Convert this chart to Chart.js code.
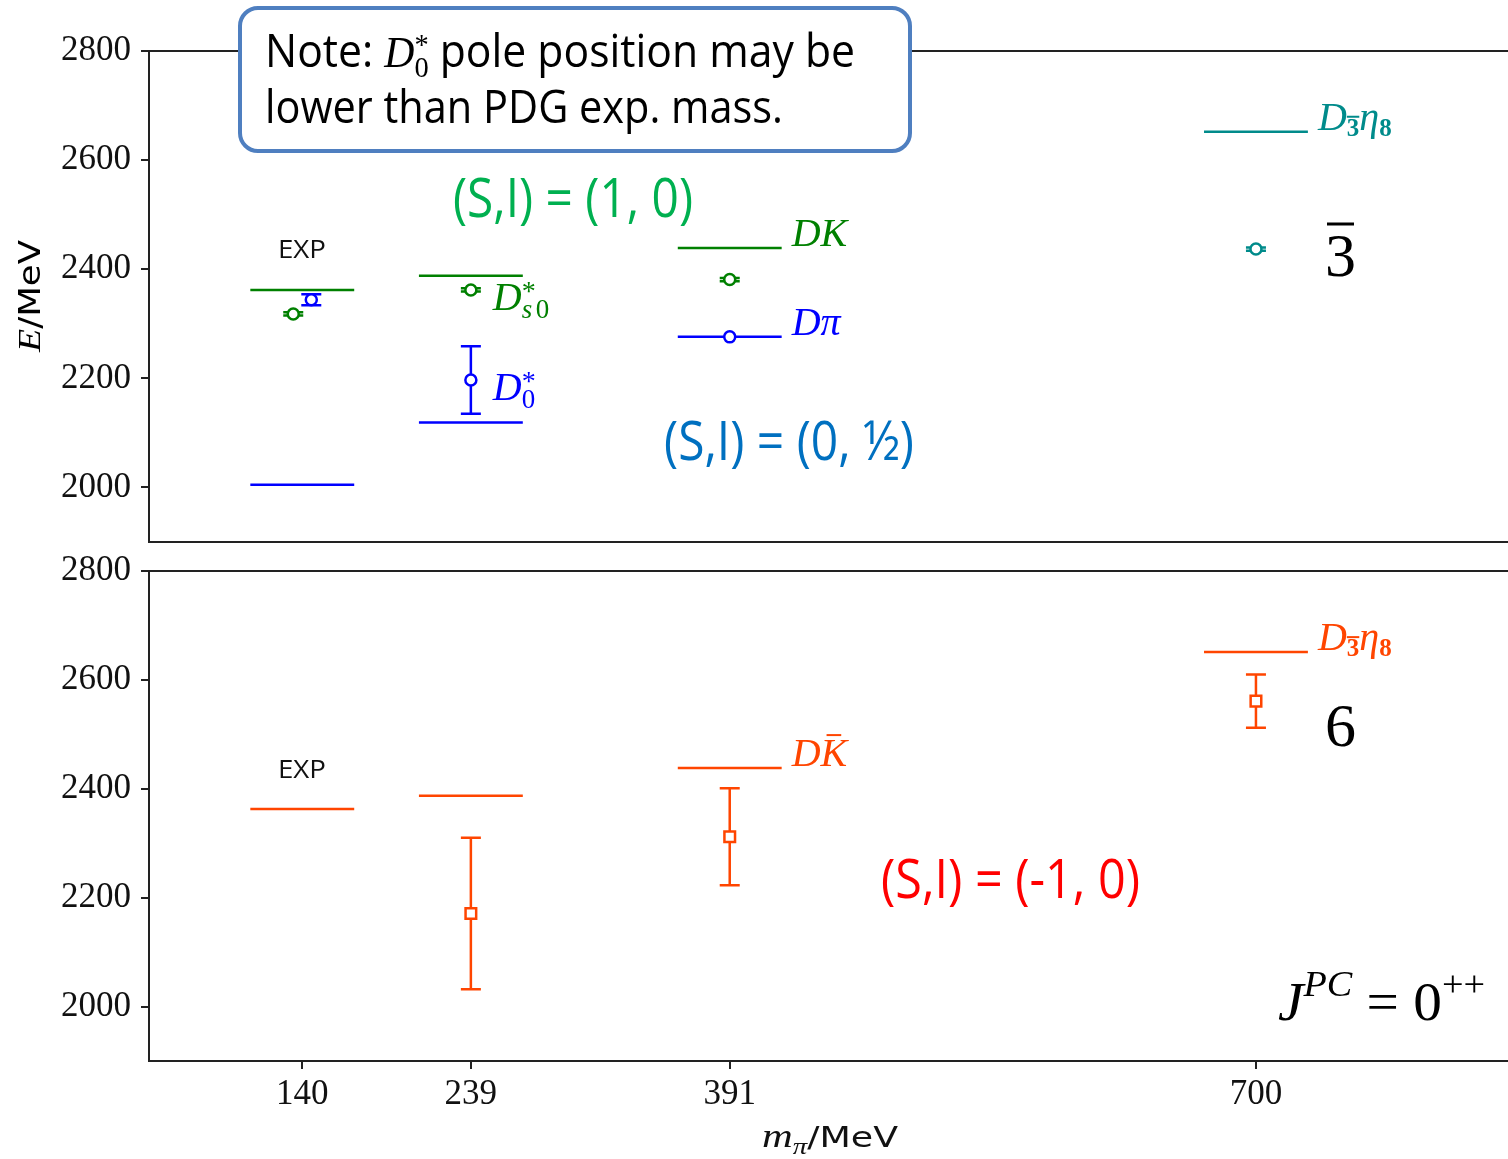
<!DOCTYPE html>
<html>
<head>
<meta charset="utf-8">
<script src="https://cdn.jsdelivr.net/npm/chart.js@4.4.1/dist/chart.umd.min.js"></script>
<style>
  body { margin: 0; background: #fff; }
  #wrap { position: relative; width: 1508px; height: 1159px; }
  canvas { position: absolute; left: 0; }
</style>
</head>
<body>
<div id="wrap">
  <canvas id="topChart" width="1508" height="560" style="top:0"></canvas>
  <canvas id="bottomChart" width="1508" height="614" style="top:545px"></canvas>
</div>
<script>
// pion masses (x ticks) and energy ticks
const mPi = [140, 239, 391, 700];
const yTicks = [2000, 2200, 2400, 2600, 2800];
const xMin = 50, xMax = 848, yMin = 1900, yMax = 2800;
const halfWidth = 30.5; // threshold bars span m_pi +- this (MeV)

// upper panel: anti-triplet, thresholds
const dkThreshold = [2362, 2388, 2439, null];
const dpiThreshold = [2005, 2119, 2276, null];
const d3eta8Threshold = [null, null, null, 2652];

// upper panel: poles (x in MeV, the 140 points are shifted a bit in the plot)
const ds0X = [134.7, 239, 391];
const ds0M = [2318, 2362, 2381];
const ds0Err = [3, 3, 3];
const d0X = [145.3, 239, 391];
const d0M = [2344, 2197, 2276];
const d0Err = [10, 62, 0];
const tripletX = [700];
const tripletM = [2437];
const tripletErr = [3];

// lower panel: sextet
const dkbarThreshold = [2363, 2387, 2438, null];
const d3eta8Threshold6 = [null, null, null, 2651];
const sextetX = [239, 391, 700];
const sextetM = [2171, 2312, 2561];
const sextetErr = [139, 89, 49];

const GREEN = '#008000', BLUE = '#0000ff', TEAL = '#008b8b', ORANGE = '#ff4500';
const SERIF = '"Liberation Serif"', SANS = '"Open Sans"', DSANS = '"DejaVu Sans"';
const BOTTOM_TOP = 545;

function thresholdData(values) {
  const pts = [];
  values.forEach((e, i) => {
    if (e == null) return;
    pts.push({ x: mPi[i] - halfWidth, y: e }, { x: mPi[i] + halfWidth, y: e }, { x: mPi[i] + halfWidth, y: null });
  });
  return pts;
}

function thresholdSet(values, color) {
  return { data: thresholdData(values), showLine: true, spanGaps: false, borderColor: color,
           borderWidth: 2.5, pointRadius: 0, order: 2 };
}

function poleSet(xs, ms, errs, color, style, radius) {
  return { data: xs.map((x, i) => ({ x: x, y: ms[i] })), err: errs, showLine: false,
           pointStyle: style, pointRadius: radius, borderColor: color, backgroundColor: '#fff',
           pointBorderWidth: 2.5, order: 1 };
}

function runsWidth(ctx, runs) {
  let w = 0, held = 0;
  runs.forEach(r => {
    ctx.font = r.font;
    const rw = ctx.measureText(r.t).width;
    if (r.hold) held = rw; else { w += Math.max(rw, held); held = 0; }
  });
  return w;
}

function drawRuns(ctx, runs, x, y, color, width) {
  const natural = runsWidth(ctx, runs);
  const sx = width ? width / natural : 1;
  ctx.save();
  ctx.translate(x, y);
  ctx.scale(sx, 1);
  ctx.fillStyle = color;
  ctx.strokeStyle = color;
  ctx.textAlign = 'left';
  ctx.textBaseline = 'alphabetic';
  let cx = 0, held = 0;
  runs.forEach(r => {
    ctx.font = r.font;
    const rw = ctx.measureText(r.t).width;
    const dy = r.dy || 0;
    ctx.fillText(r.t, cx, dy);
    if (r.bar) {
      const inset = r.barIn || 0;
      ctx.lineWidth = r.barW || 2;
      ctx.beginPath();
      ctx.moveTo(cx + inset, dy - r.bar);
      ctx.lineTo(cx + rw - inset, dy - r.bar);
      ctx.stroke();
    }
    if (r.hold) held = rw; else { cx += Math.max(rw, held); held = 0; }
  });
  ctx.restore();
  return natural * sx;
}

const it = s => `italic ${s}px ${SERIF}`;
const up = s => `${s}px ${SERIF}`;
const bd = s => `bold ${s}px ${SERIF}`;
const sans = s => `${s}px ${SANS}`;

const lblDK = [{ t: 'D', font: it(40) }, { t: 'K', font: it(40) }];
const lblDpi = [{ t: 'D', font: it(40) }, { t: 'π', font: it(40) }];
const lblDs0 = [{ t: 'D', font: it(40) }, { t: '*', font: up(28), dy: -10, hold: true },
                { t: 's', font: it(27), dy: 8 }, { t: '0', font: up(27), dy: 8 }];
const lblD0 = [{ t: 'D', font: it(40) }, { t: '*', font: up(28), dy: -10, hold: true },
               { t: '0', font: up(27), dy: 8 }];
const lblD3eta8 = [{ t: 'D', font: it(40) }, { t: '3', font: bd(25), dy: 6, bar: 19, barW: 2 },
                   { t: 'η', font: it(40) }, { t: '8', font: bd(25), dy: 6 }];
const lblDKbar = [{ t: 'D', font: it(40) }, { t: 'K', font: it(40), bar: 31, barW: 2, barIn: 6 }];

// error bars + frame, under the markers
const errorBars = {
  id: 'errorBars',
  beforeDatasetsDraw(chart) {
    const { ctx, chartArea: a, scales: { x, y } } = chart;
    ctx.save();
    ctx.strokeStyle = '#222';
    ctx.lineWidth = 2;
    ctx.beginPath();
    ctx.moveTo(a.right + 2, a.top); ctx.lineTo(a.left, a.top);
    ctx.lineTo(a.left, a.bottom); ctx.lineTo(a.right + 2, a.bottom);
    ctx.stroke();
    chart.data.datasets.forEach(ds => {
      if (!ds.err) return;
      ctx.strokeStyle = ds.borderColor;
      ctx.lineWidth = 2.5;
      ds.data.forEach((p, i) => {
        const e = ds.err[i];
        if (!e) return;
        const px = x.getPixelForValue(p.x);
        const y1 = y.getPixelForValue(p.y + e), y2 = y.getPixelForValue(p.y - e);
        ctx.beginPath();
        ctx.moveTo(px, y1); ctx.lineTo(px, y2);
        ctx.moveTo(px - 10, y1); ctx.lineTo(px + 10, y1);
        ctx.moveTo(px - 10, y2); ctx.lineTo(px + 10, y2);
        ctx.stroke();
      });
    });
    ctx.restore();
  }
};

function lineLabel(chart, runs, values, idx, color) {
  const { ctx, scales: { x, y } } = chart;
  const px = x.getPixelForValue(mPi[idx] + halfWidth) + 10;
  const py = y.getPixelForValue(values[idx]) - 2;
  drawRuns(ctx, runs, px, py, color);
}

function pointLabel(chart, runs, xs, ms, idx, color) {
  const { ctx, scales: { x, y } } = chart;
  drawRuns(ctx, runs, x.getPixelForValue(xs[idx]) + 22, y.getPixelForValue(ms[idx]) + 20, color);
}

const topNotes = {
  id: 'topNotes',
  afterDraw(chart) {
    const ctx = chart.ctx;
    lineLabel(chart, lblDK, dkThreshold, 2, GREEN);
    lineLabel(chart, lblDpi, dpiThreshold, 2, BLUE);
    lineLabel(chart, lblD3eta8, d3eta8Threshold, 3, TEAL);
    pointLabel(chart, lblDs0, ds0X, ds0M, 1, GREEN);
    pointLabel(chart, lblD0, d0X, d0M, 1, BLUE);

    // note box
    ctx.save();
    ctx.beginPath();
    ctx.roundRect(240, 8, 670, 143, 18);
    ctx.fillStyle = '#fff';
    ctx.fill();
    ctx.lineWidth = 4;
    ctx.strokeStyle = '#4f7fc0';
    ctx.stroke();
    ctx.restore();
    drawRuns(ctx, [{ t: 'Note: ', font: sans(45) }, { t: 'D', font: it(44) },
                   { t: '*', font: up(30), dy: -13, hold: true }, { t: '0', font: up(30), dy: 10 },
                   { t: ' pole position may be', font: sans(45) }], 265, 67, '#000', 590);
    drawRuns(ctx, [{ t: 'lower than PDG exp. mass.', font: sans(45) }], 265, 123, '#000', 518);

    drawRuns(ctx, [{ t: '(S,I) = (1, 0)', font: sans(54) }], 453, 217, '#00b050', 240);
    drawRuns(ctx, [{ t: '(S,I) = (0, ½)', font: sans(54) }], 664, 460, '#0070c0', 250);
    drawRuns(ctx, [{ t: 'EXP', font: sans(26) }], 278, 258, '#111', 48);
    drawRuns(ctx, [{ t: '3', font: up(62), bar: 52, barW: 3, barIn: 2 }], 1325, 276, '#000');

    // y axis title
    ctx.save();
    ctx.translate(40, 296);
    ctx.rotate(-Math.PI / 2);
    const tRuns = [{ t: 'E', font: it(32) }, { t: '/MeV', font: `30px ${DSANS}` }];
    drawRuns(ctx, tRuns, -56, 0, '#000', 112);
    ctx.restore();
  }
};

const bottomNotes = {
  id: 'bottomNotes',
  afterDraw(chart) {
    const ctx = chart.ctx;
    lineLabel(chart, lblDKbar, dkbarThreshold, 2, ORANGE);
    lineLabel(chart, lblD3eta8, d3eta8Threshold6, 3, ORANGE);
    ctx.save();
    ctx.translate(0, -BOTTOM_TOP);
    drawRuns(ctx, [{ t: 'EXP', font: sans(26) }], 278, 778, '#111', 48);
    drawRuns(ctx, [{ t: '6', font: up(62) }], 1325, 746, '#000');
    drawRuns(ctx, [{ t: '(S,I) = (-1, 0)', font: sans(54) }], 881, 898, '#ff0000', 259);
    drawRuns(ctx, [{ t: 'J', font: it(54) }, { t: 'PC', font: it(36), dy: -24 },
                   { t: ' = 0', font: up(54) }, { t: '++', font: up(36), dy: -24 }], 1278, 1020, '#000', 207);
    drawRuns(ctx, [{ t: 'm', font: it(34) }, { t: 'π', font: it(23), dy: 7 },
                   { t: '/MeV', font: `29px ${DSANS}` }], 762, 1147, '#111', 136);
    ctx.restore();
  }
};

function noPadding(s) {
  s.paddingTop = 0; s.paddingBottom = 0; s.paddingLeft = 0; s.paddingRight = 0;
}

function axes(showX) {
  const tickFont = { family: SERIF, size: 35 };
  return {
    x: {
      type: 'linear', min: xMin, max: xMax,
      afterBuildTicks: s => { s.ticks = mPi.map(v => ({ value: v })); },
      afterFit: s => { s.height = showX ? 98 : 18; noPadding(s); },
      ticks: { display: showX, color: '#111', font: tickFont, padding: 5, maxRotation: 0,
               autoSkip: false, callback: v => String(v) },
      grid: { display: showX, drawOnChartArea: false, drawTicks: true, tickLength: 8,
              color: '#222', lineWidth: 2 },
      border: { display: false }
    },
    y: {
      type: 'linear', min: yMin, max: yMax,
      afterBuildTicks: s => { s.ticks = yTicks.map(v => ({ value: v })); },
      afterFit: s => { s.width = 149; noPadding(s); },
      ticks: { color: '#111', font: tickFont, padding: 10, callback: v => String(v) },
      grid: { drawOnChartArea: false, drawTicks: true, tickLength: 8, color: '#222', lineWidth: 2 },
      border: { display: false }
    }
  };
}

function baseOptions(showX, padTop) {
  return {
    responsive: false,
    devicePixelRatio: 1,
    animation: false,
    layout: { autoPadding: false, padding: { top: padTop, left: 0, right: 0, bottom: 0 } },
    plugins: { legend: { display: false }, tooltip: { enabled: false } },
    scales: axes(showX)
  };
}

new Chart(document.getElementById('topChart'), {
  type: 'scatter',
  data: {
    datasets: [
      thresholdSet(dkThreshold, GREEN),
      thresholdSet(dpiThreshold, BLUE),
      thresholdSet(d3eta8Threshold, TEAL),
      poleSet(ds0X, ds0M, ds0Err, GREEN, 'circle', 5.5),
      poleSet(d0X, d0M, d0Err, BLUE, 'circle', 5.5),
      poleSet(tripletX, tripletM, tripletErr, TEAL, 'circle', 5.5)
    ]
  },
  options: baseOptions(false, 51),
  plugins: [errorBars, topNotes]
});

new Chart(document.getElementById('bottomChart'), {
  type: 'scatter',
  data: {
    datasets: [
      thresholdSet(dkbarThreshold, ORANGE),
      thresholdSet(d3eta8Threshold6, ORANGE),
      poleSet(sextetX, sextetM, sextetErr, ORANGE, 'rect', 7.5)
    ]
  },
  options: baseOptions(true, 571 - BOTTOM_TOP),
  plugins: [errorBars, bottomNotes]
});
</script>
</body>
</html>
